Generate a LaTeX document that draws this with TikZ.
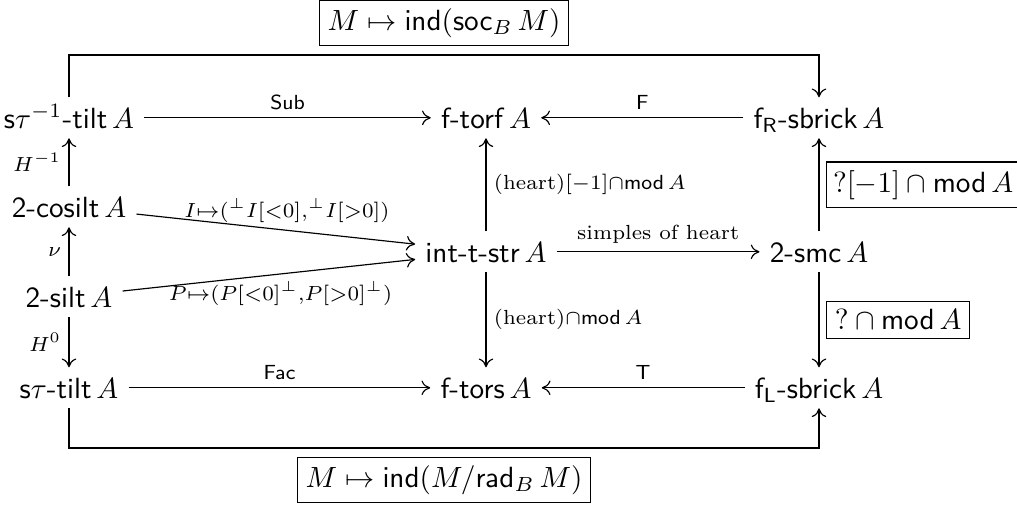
\documentclass[tikz,border=0pt]{standalone}
\usepackage{amsmath,amssymb}
\usetikzlibrary{arrows.meta}
\begin{document}
\begin{tikzpicture}[x=0.3425pt,y=-0.3425pt,
  obj/.style={anchor=base, text height=7pt, text depth=0pt, inner sep=3.33pt},
  arr/.style={-{Computer Modern Rightarrow[length=3pt,width=5pt]}, line width=0.4pt},
  lab/.style={inner sep=2.5pt},
  boxlab/.style={draw, line width=0.4pt, inner sep=2.8pt}]
\useasboundingbox (0,0) rectangle (1017,506);

\node[obj] (stinv) at (69,128) {\textsf{s}$\tau^{-1}$\textsf{-tilt}\,$A$};
\node[obj] (ftorf) at (486,128) {\textsf{f-torf}\,$A$};
\node[obj] (fR) at (819,128) {$\textsf{f}_{\textsf{R}}$\textsf{-sbrick}\,$A$};
\node[obj] (cosilt) at (69,217) {\textsf{2-cosilt}\,$A$};
\node[obj] (int) at (486,262) {\textsf{int-t-str}\,$A$};
\node[obj] (smc) at (819,262) {\textsf{2-smc}\,$A$};
\node[obj] (silt) at (69,307) {\textsf{2-silt}\,$A$};
\node[obj] (stilt) at (69,398) {\textsf{s}$\tau$\textsf{-tilt}\,$A$};
\node[obj] (ftors) at (486,398) {\textsf{f-tors}\,$A$};
\node[obj] (fL) at (819,398) {$\textsf{f}_{\textsf{L}}$\textsf{-sbrick}\,$A$};

\draw[arr] (stinv) -- node[lab,above]{$\scriptstyle\mathsf{Sub}$} (ftorf);
\draw[arr] (fR) -- node[lab,above]{$\scriptstyle\mathsf{F}$} (ftorf);
\draw[arr] (stilt) -- node[lab,above]{$\scriptstyle\mathsf{Fac}$} (ftors);
\draw[arr] (fL) -- node[lab,above]{$\scriptstyle\mathsf{T}$} (ftors);

\draw[arr] (cosilt) -- node[lab,left]{$\scriptstyle H^{-1}$} (stinv);
\draw[arr] (silt) -- node[lab,left]{$\scriptstyle \nu$} (cosilt);
\draw[arr] (silt) -- node[lab,left]{$\scriptstyle H^{0}$} (stilt);

\draw[arr] (cosilt) -- node[lab,above,pos=0.54]{$\scriptstyle I\mapsto({}^{\perp}I[<0],{}^{\perp}I[>0])$} (int);
\draw[arr] (silt) -- node[lab,below,pos=0.54]{$\scriptstyle P\mapsto(P[<0]^{\perp},P[>0]^{\perp})$} (int);

\draw[arr] (int) -- node[lab,right]{$\scriptstyle (\text{heart})[-1]\cap\mathsf{mod}\,A$} (ftorf);
\draw[arr] (int) -- node[lab,right]{$\scriptstyle (\text{heart})\cap\mathsf{mod}\,A$} (ftors);
\draw[arr] (int) -- node[lab,above]{$\scriptstyle \text{simples of heart}$} (smc);

\draw[arr] (smc) -- node[boxlab,anchor=west,xshift=2.4pt,inner xsep=2.2pt]{$?[-1]\cap\mathsf{mod}\,A$} (fR);
\draw[arr] (smc) -- node[boxlab,anchor=west,xshift=2.4pt]{$?\cap\mathsf{mod}\,A$} (fL);

\coordinate (topmid) at (444,55);
\coordinate (botmid) at (444,448);
\draw[arr] (stinv) |- (topmid) -| (fR);
\draw[arr] (stilt) |- (botmid) -| (fL);

\node[boxlab] (soclab) at (444,23) {$M\mapsto\mathsf{ind}(\mathsf{soc}_B\,M)$};
\node[boxlab] (radlab) at (444,480) {$M\mapsto\mathsf{ind}(M/\mathsf{rad}_B\,M)$};
\end{tikzpicture}
\end{document}
